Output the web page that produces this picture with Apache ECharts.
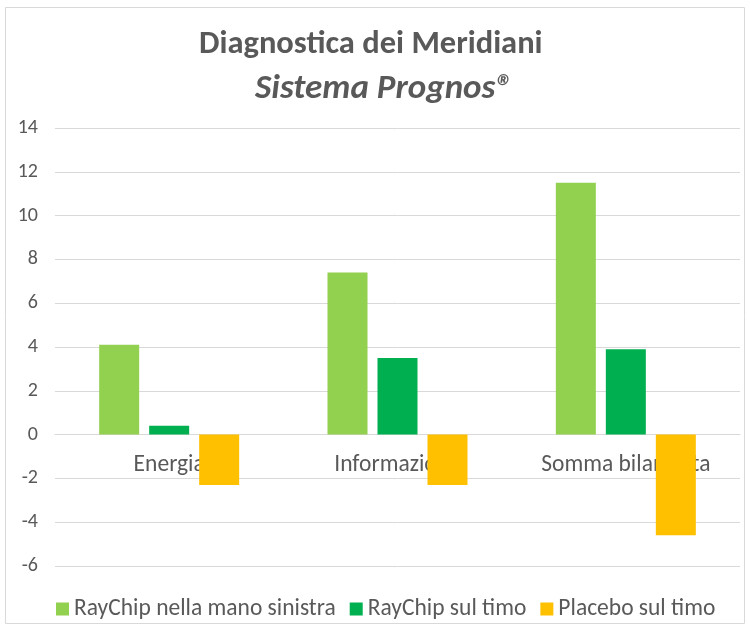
<!DOCTYPE html>
<html>
<head>
<meta charset="utf-8">
<script src="https://cdn.jsdelivr.net/npm/echarts@6/dist/echarts.min.js"></script>
<style>
  html, body { margin: 0; padding: 0; background: #fff; }
  #main { width: 750px; height: 629px; }
</style>
</head>
<body>
<div id="main"></div>
<script>
var categorie = ['Energia', 'Informazione', 'Somma bilanciata'];
var nomiSerie = ['RayChip nella mano sinistra', 'RayChip sul timo', 'Placebo sul timo'];
var manoSinistra = [4.1, 7.4, 11.5];
var sulTimo = [0.4, 3.5, 3.9];
var placebo = [-2.3, -2.3, -4.6];
var colori = ['#92d050', '#00b050', '#ffc000'];

var font = 'Carlito, "Liberation Sans Narrow", "Open Sans", sans-serif';
var myChart = echarts.init(document.getElementById('main'));

// grid: top 128, bottom 566 -> the x axis is pushed up onto the zero line
var gridTop = 128, gridBottom = 566;
var zeroOffset = -((gridBottom - gridTop) * 6 / 20);

var option = {
  color: colori,
  textStyle: { fontFamily: font },
  title: [{
    text: 'Diagnostica dei Meridiani',
    left: 194,
    top: 23,
    textStyle: { fontFamily: font, fontSize: 32.5, fontWeight: 'bold', color: '#595959' }
  }, {
    text: 'Sistema Prognos®',
    left: 250,
    top: 67,
    textStyle: { fontFamily: font, fontSize: 35, fontStyle: 'italic', fontWeight: 'bold', color: '#595959' }
  }],
  graphic: [{
    type: 'rect',
    shape: { x: 5.5, y: 7.5, width: 739, height: 616 },
    style: { fill: 'none', stroke: '#d9d9d9', lineWidth: 1 },
    silent: true
  }],
  legend: {
    data: nomiSerie,
    top: 592,
    left: 51,
    itemWidth: 13,
    itemHeight: 13,
    itemGap: 14,
    itemTextGap: 6,
    icon: 'rect',
    textStyle: { fontFamily: font, fontSize: 23.5, color: '#595959' }
  },
  grid: { left: 55, right: 10, top: gridTop, bottom: 629 - gridBottom, containLabel: false },
  xAxis: {
    type: 'category',
    data: categorie,
    offset: zeroOffset,
    axisLine: { onZero: false, lineStyle: { color: '#d9d9d9' } },
    axisTick: { show: false },
    axisLabel: { margin: 19, fontFamily: font, fontSize: 23.5, color: '#595959' }
  },
  yAxis: {
    type: 'value',
    min: -6,
    max: 14,
    interval: 2,
    axisLine: { show: false },
    axisTick: { show: false },
    splitLine: { lineStyle: { color: '#d9d9d9' } },
    axisLabel: { margin: 17, fontFamily: font, fontSize: 20, color: '#595959' }
  },
  series: [{
    name: nomiSerie[0], type: 'bar', data: manoSinistra, barWidth: 40, barGap: '25%'
  }, {
    name: nomiSerie[1], type: 'bar', data: sulTimo, barWidth: 40, barGap: '25%'
  }, {
    name: nomiSerie[2], type: 'bar', data: placebo, barWidth: 40, barGap: '25%'
  }]
};

myChart.setOption(option);
</script>
</body>
</html>
